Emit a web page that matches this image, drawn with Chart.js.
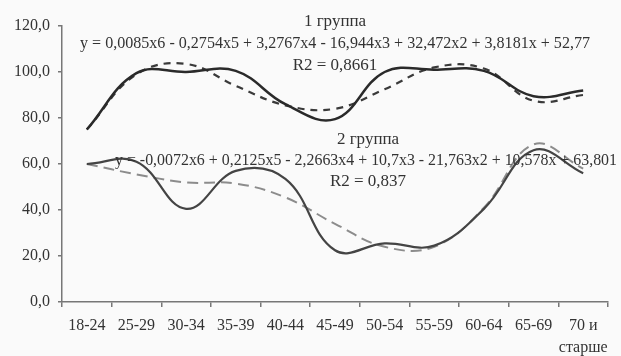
<!DOCTYPE html>
<html>
<head>
<meta charset="utf-8">
<script src="https://cdn.jsdelivr.net/npm/chart.js@4.4.1/dist/chart.umd.min.js"></script>
<style>
  html, body { margin: 0; padding: 0; background: #fafafa; }
  #wrap { width: 621px; height: 356px; }
</style>
</head>
<body>
<div id="wrap"><canvas id="myChart"></canvas></div>
<script>
'use strict';

// age groups
const labels = ['18-24', '25-29', '30-34', '35-39', '40-44', '45-49', '50-54', '55-59', '60-64', '65-69', ['70 и', 'старше']];

// values
const group1 = [75, 99.5, 100, 100.5, 86, 79.5, 100, 101, 100.5, 89.5, 92];
const group1Trend = [75, 99, 103.5, 94, 85.5, 84, 92.5, 102, 101.5, 87.5, 90];
const group2 = [60, 61, 40.5, 57, 53.5, 22.5, 25.5, 24.5, 40.5, 66, 56];
const group2Trend = [60, 55.5, 52, 51.5, 45.5, 34, 24, 24, 41, 68.5, 58];

const yTicks = [0, 20, 40, 60, 80, 100, 120];
const yTickLabels = ['0,0', '20,0', '40,0', '60,0', '80,0', '100,0', '120,0'];

const title1 = '1 группа';
const eq1 = 'y = 0,0085x6 - 0,2754x5 + 3,2767x4 - 16,944x3 + 32,472x2 + 3,8181x + 52,77';
const r1 = 'R2 = 0,8661';
const title2 = '2 группа';
const eq2 = 'y = -0,0072x6 + 0,2125x5 - 2,2663x4 + 10,7x3 - 21,763x2 + 10,578x + 63,801';
const r2 = 'R2 = 0,837';

const axisColor = '#777';
const fontFam = '"Liberation Serif", "Times New Roman", serif';

// trend line texts drawn over the plot
const textPlugin = {
  id: 'trendText',
  afterDraw(chart) {
    const c = chart.ctx;
    c.save();
    c.fillStyle = '#333';
    c.textAlign = 'center';
    c.textBaseline = 'middle';
    c.font = '17px ' + fontFam;
    c.fillText(title1, 335, 22);
    c.fillText(eq1, 335, 44, 510);
    c.fillText(r1, 335, 66);
    c.fillText(title2, 368, 140);
    c.fillText(eq2, 366, 161, 502);
    c.fillText(r2, 368, 182);
    c.restore();
  }
};

const ctx = document.getElementById('myChart');

new Chart(ctx, {
  type: 'line',
  data: {
    labels: labels,
    datasets: [
      {
        label: '1 группа',
        data: group1,
        borderColor: '#2a2a2a',
        borderWidth: 2.5,
        tension: 0.4,
        pointRadius: 0,
        fill: false
      },
      {
        label: '1 группа тренд',
        data: group1Trend,
        borderColor: '#3a3a3a',
        borderWidth: 2.2,
        borderDash: [7, 6],
        tension: 0.4,
        pointRadius: 0,
        fill: false
      },
      {
        label: '2 группа',
        data: group2,
        borderColor: '#444',
        borderWidth: 2.2,
        tension: 0.4,
        pointRadius: 0,
        fill: false
      },
      {
        label: '2 группа тренд',
        data: group2Trend,
        borderColor: '#8c8c8c',
        borderWidth: 2,
        borderDash: [11, 6],
        tension: 0.4,
        pointRadius: 0,
        fill: false
      }
    ]
  },
  options: {
    responsive: true,
    maintainAspectRatio: false,
    animation: false,
    layout: {
      padding: { left: 0, right: 13, top: 26, bottom: 0 }
    },
    scales: {
      x: {
        offset: true,
        grid: {
          offset: true,
          drawOnChartArea: false,
          tickLength: 5,
          color: axisColor,
          lineWidth: 1.5
        },
        border: { color: axisColor, width: 1.5 },
        ticks: {
          color: '#333',
          padding: 8,
          maxRotation: 0,
          autoSkip: false,
          font: { family: fontFam, size: 16, lineHeight: 1.35 }
        },
        afterFit(scale) { scale.height = 54; }
      },
      y: {
        min: 0,
        max: 120,
        afterBuildTicks(scale) {
          scale.ticks = yTicks.map(v => ({ value: v }));
        },
        grid: {
          drawOnChartArea: false,
          tickLength: 4,
          color: axisColor,
          lineWidth: 1.5
        },
        border: { color: axisColor, width: 1.5 },
        ticks: {
          color: '#333',
          padding: 8,
          font: { family: fontFam, size: 16 },
          callback: (v) => yTickLabels[yTicks.indexOf(v)]
        },
        afterFit(scale) { scale.width = 62; }
      }
    },
    plugins: {
      legend: { display: false },
      tooltip: { enabled: false }
    }
  },
  plugins: [textPlugin]
});
</script>
</body>
</html>
